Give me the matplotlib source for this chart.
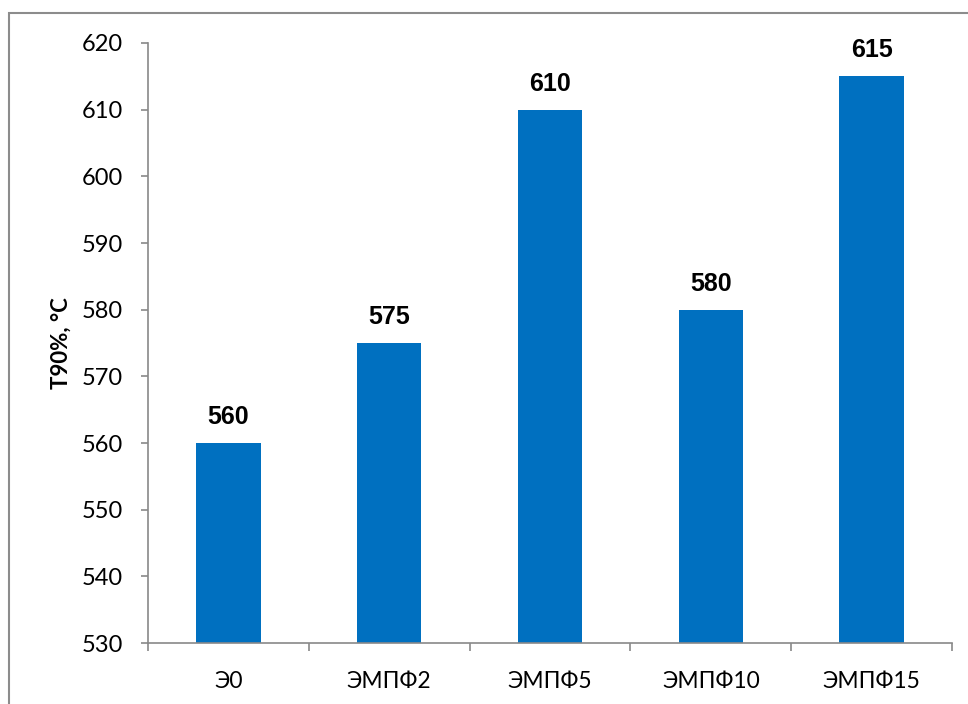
import matplotlib
matplotlib.use("Agg")
import matplotlib.pyplot as plt
from matplotlib.patches import Rectangle

categories = ["Э0", "ЭМПФ2", "ЭМПФ5", "ЭМПФ10", "ЭМПФ15"]
values = [560, 575, 610, 580, 615]
yticks = [530, 540, 550, 560, 570, 580, 590, 600, 610, 620]

W, H = 968, 704
fig = plt.figure(figsize=(W / 100, H / 100), dpi=100)
ax = fig.add_axes([148 / W, 1 - 643 / H, (952 - 148) / W, (643 - 43) / H])

axis_color = "#898989"
bar_color = "#0070C0"
x = list(range(len(categories)))
ax.bar(x, values, width=0.4, color=bar_color, bottom=0, zorder=2)
ax.set_xlim(-0.5, len(categories) - 0.5)
ax.set_ylim(530, 620)
ax.set_yticks(yticks)
ax.set_yticklabels([str(v) for v in yticks], fontfamily="Lato", fontsize=17)
ax.set_xticks(x)
ax.set_xticklabels(categories, fontfamily="Lato", fontsize=16.5)
ax.set_xticks([i - 0.5 for i in range(len(categories) + 1)], minor=True)
ax.tick_params(axis="x", which="major", length=0, pad=20)
ax.tick_params(axis="x", which="minor", length=6, width=1.2, color=axis_color, direction="out")
ax.tick_params(axis="y", length=5, width=1.2, color=axis_color, direction="out", pad=13)

for s in ["top", "right"]:
    ax.spines[s].set_visible(False)
for s in ["left", "bottom"]:
    ax.spines[s].set_color(axis_color)
    ax.spines[s].set_linewidth(1.2)

for xi, v in zip(x, values):
    ax.annotate(str(v), (xi, v), xytext=(0, 10), textcoords="offset points",
                ha="center", va="bottom", fontsize=18, fontweight="bold",
                fontfamily="Liberation Sans")

ax.set_ylabel("T90%, °C", fontsize=16, fontweight="bold", fontfamily="Lato")
ax.yaxis.set_label_coords(-(148 - 72) / (952 - 148), 0.5)

border = Rectangle((9 / W, -0.1), 1.2, 1 - 13 / H + 0.1, transform=fig.transFigure,
                   fill=False, edgecolor="#8c8c8c", linewidth=1.5)
fig.patches.append(border)

fig.savefig("out.png", dpi=100)
